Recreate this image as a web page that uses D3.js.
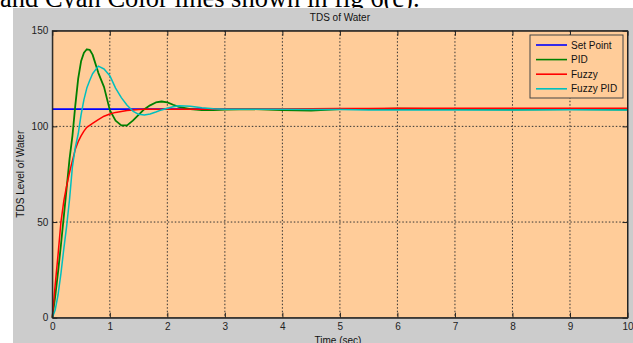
<!DOCTYPE html>
<html>
<head>
<meta charset="utf-8">
<script src="https://cdn.jsdelivr.net/npm/d3@7"></script>
<style>
  body { margin: 0; background: #fff; }
  text { font-family: "Liberation Sans", Arial, sans-serif; }
</style>
</head>
<body>
<svg id="chart"></svg>
<script>
// time samples (sec)
const time = [0, 0.05, 0.1, 0.15, 0.2, 0.25, 0.3, 0.35, 0.4, 0.45, 0.5, 0.55, 0.6, 0.65, 0.7, 0.8, 0.9,
  1.0, 1.1, 1.2, 1.3, 1.4, 1.5, 1.6, 1.7, 1.8, 1.9, 2.0, 2.1, 2.2, 2.4, 2.6, 2.8, 3.0, 3.5, 4, 4.5,
  5, 5.5, 6, 7, 8, 9, 10];

const setPoint = time.map(() => 109);

const pid = [0, 11, 24, 38, 53, 68, 83, 95, 111, 125, 134, 138.5, 140.3, 140, 137.5, 128, 120.5,
  108.5, 103, 100.5, 100.5, 103, 106, 109, 111, 112.5, 113, 112.5, 111.3, 110.2, 109, 108.5, 108.5,
  108.8, 109, 108.5, 108.3, 109, 109, 109.2, 109, 108.7, 109, 108.8];

const fuzzy = [0, 17, 33, 50, 61, 69, 76, 82, 88, 92, 95, 97.5, 99.5, 100.5, 101.5, 103.5, 105.3,
  106.5, 107.3, 107.8, 108.3, 108.6, 108.8, 109, 109, 109, 109, 109, 109, 109, 109, 109, 109,
  109.1, 109.1, 109.2, 109.2, 109.3, 109.4, 109.5, 109.5, 109.5, 109.5, 109.5];

const fuzzyPid = [0, 4, 12, 23, 36, 48, 62, 79, 89, 96, 106, 114, 120, 124, 127.5, 131.5, 130,
  126.5, 120, 115, 111, 108, 106.3, 106, 106.5, 107.5, 108.6, 109.5, 110.2, 110.8, 110.5, 109.7, 109.2,
  109, 109, 109, 108.8, 108.8, 108.5, 108.5, 108.6, 108.6, 108.7, 108.5];

const seriesNames = ["Set Point", "PID", "Fuzzy", "Fuzzy PID"];
const seriesColors = ["#0000ff", "#008000", "#ff0000", "#00bfbf"];
const xTicks = [0, 1, 2, 3, 4, 5, 6, 7, 8, 9, 10];
const yTicks = [0, 50, 100, 150];

const width = 633, height = 343;
const plot = {left: 52.3, right: 627.5, top: 30.7, bottom: 317.7};
const peach = "#ffcc99";

const svg = d3.select("#chart")
  .attr("width", width)
  .attr("height", height);

// caption text of the page above the figure (cut off)
svg.append("text")
  .attr("x", 0)
  .attr("y", 6.5)
  .style("font-family", "'Liberation Serif', 'Times New Roman', serif")
  .style("font-size", "26.5px")
  .attr("fill", "#000")
  .text("and Cyan Color lines shown in fig 6(c).");

// figure background
svg.append("rect")
  .attr("x", 13).attr("y", 8)
  .attr("width", width - 13).attr("height", height - 8)
  .attr("fill", "#cccccc");

const x = d3.scaleLinear().domain([0, 10]).range([plot.left, plot.right]);
const y = d3.scaleLinear().domain([0, 150]).range([plot.bottom, plot.top]);

// axes area
svg.append("rect")
  .attr("x", plot.left).attr("y", plot.top)
  .attr("width", plot.right - plot.left).attr("height", plot.bottom - plot.top)
  .attr("fill", peach);

// grid
const grid = svg.append("g").attr("stroke", "#333").attr("stroke-dasharray", "1.5,2").attr("stroke-width", 1);
grid.selectAll("line.gx").data(xTicks.slice(1, -1)).join("line")
  .attr("x1", d => x(d)).attr("x2", d => x(d))
  .attr("y1", plot.top).attr("y2", plot.bottom);
grid.selectAll("line.gy").data(yTicks.slice(1, -1)).join("line")
  .attr("class", "gy")
  .attr("x1", plot.left).attr("x2", plot.right)
  .attr("y1", d => y(d)).attr("y2", d => y(d));

// data lines
const line = d3.line()
  .x((d, i) => x(time[i]))
  .y(d => y(d));

const allSeries = [setPoint, pid, fuzzy, fuzzyPid];
const widths = [1.6, 1.8, 1.5, 1.5];
svg.append("g").selectAll("path").data(allSeries).join("path")
  .attr("d", d => line(d))
  .attr("fill", "none")
  .attr("stroke", (d, i) => seriesColors[i])
  .attr("stroke-width", (d, i) => widths[i])
  .attr("stroke-linejoin", "round");

// axes (ticks inside)
const tickLen = 5;
svg.append("g")
  .attr("transform", `translate(0,${plot.bottom})`)
  .call(d3.axisBottom(x).tickValues(xTicks).tickSizeInner(-tickLen).tickSizeOuter(0).tickPadding(5.5));
svg.append("g")
  .attr("transform", `translate(${plot.left},0)`)
  .call(d3.axisLeft(y).tickValues(yTicks).tickSizeInner(-tickLen).tickSizeOuter(0).tickPadding(4));
svg.append("g")
  .attr("transform", `translate(0,${plot.top})`)
  .call(d3.axisTop(x).tickValues(xTicks).tickSizeInner(-tickLen).tickSizeOuter(0).tickFormat(""));
svg.append("g")
  .attr("transform", `translate(${plot.right},0)`)
  .call(d3.axisRight(y).tickValues(yTicks).tickSizeInner(-tickLen).tickSizeOuter(0).tickFormat(""));

svg.selectAll(".domain").attr("stroke", "#222");
svg.selectAll(".tick line").attr("stroke", "#222");
svg.selectAll(".tick text")
  .attr("fill", "#222")
  .style("font-size", "10px")
  .style("font-family", "'Liberation Sans', Arial, sans-serif");

// box
svg.append("rect")
  .attr("x", plot.left).attr("y", plot.top)
  .attr("width", plot.right - plot.left).attr("height", plot.bottom - plot.top)
  .attr("fill", "none").attr("stroke", "#222").attr("stroke-width", 1);

// title and labels
svg.append("text")
  .attr("x", (plot.left + plot.right) / 2).attr("y", 21)
  .attr("text-anchor", "middle")
  .style("font-size", "10px")
  .attr("fill", "#111")
  .text("TDS of Water");

svg.append("text")
  .attr("x", 338).attr("y", 344)
  .attr("text-anchor", "middle")
  .style("font-size", "10px")
  .attr("fill", "#111")
  .text("Time (sec)");

svg.append("text")
  .attr("transform", `translate(23.5,${(plot.top + plot.bottom) / 2}) rotate(-90)`)
  .attr("text-anchor", "middle")
  .style("font-size", "10px")
  .attr("fill", "#111")
  .text("TDS Level of Water");

// legend
const legend = svg.append("g").attr("transform", "translate(530,35)");
legend.append("rect")
  .attr("width", 93).attr("height", 63)
  .attr("fill", peach).attr("stroke", "#444").attr("stroke-width", 1);
const entries = legend.selectAll("g").data(seriesNames).join("g")
  .attr("transform", (d, i) => `translate(0,${10 + i * 14.6})`);
entries.append("line")
  .attr("x1", 6).attr("x2", 37)
  .attr("stroke", (d, i) => seriesColors[i])
  .attr("stroke-width", 1.6);
entries.append("text")
  .attr("x", 41).attr("dy", "0.35em")
  .style("font-size", "10px")
  .attr("fill", "#111")
  .text(d => d);
</script>
</body>
</html>
